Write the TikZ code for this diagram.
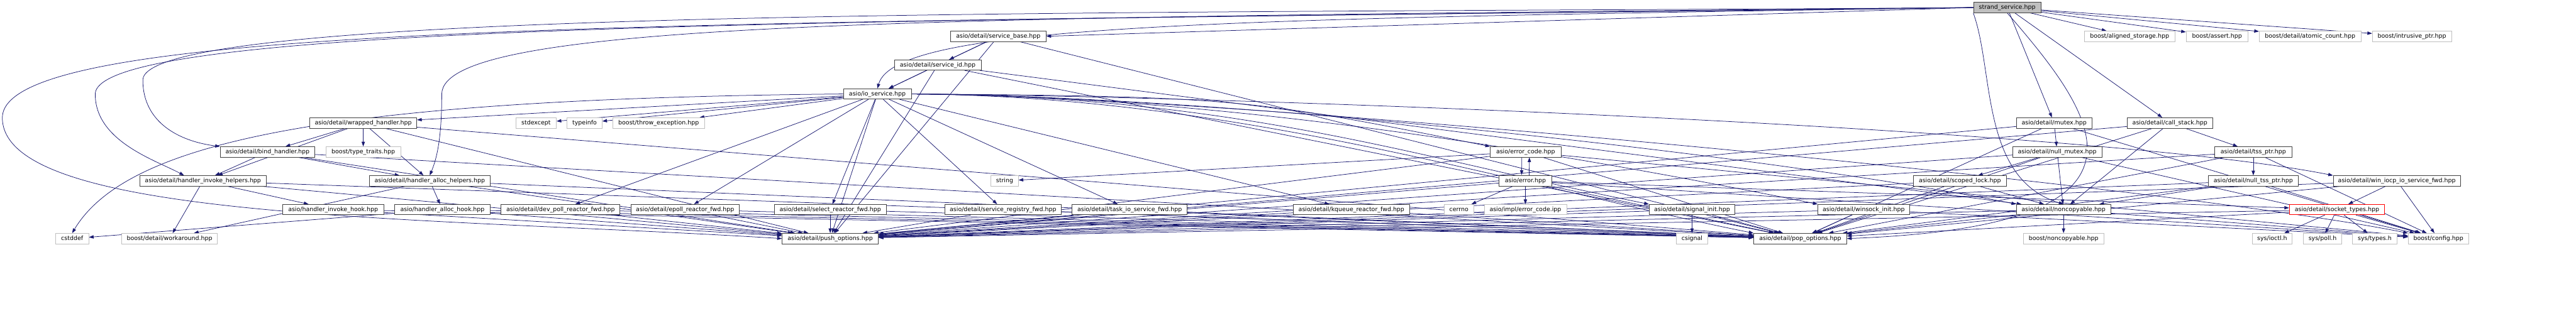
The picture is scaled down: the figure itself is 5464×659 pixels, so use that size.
\documentclass[tikz,border=0pt]{standalone}
\usepackage{fontspec}
\setmainfont{DejaVu Sans}
\usetikzlibrary{arrows.meta, backgrounds}
\definecolor{dEdge}{HTML}{191970}
\definecolor{dBorder}{HTML}{404040}
\definecolor{dGrey}{HTML}{BFBFBF}
\definecolor{dRed}{HTML}{FF0000}

\begin{document}
\begin{tikzpicture}[x=1pt, y=1pt,
  file/.style={draw=#1, line width=1pt, fill=white, minimum height=22, inner sep=0pt,
               text height=9.5pt, text depth=2.5pt, font=\fontsize{12.6}{14}\selectfont},
  hdr/.style={file=dBorder},
  ext/.style={file=dGrey},
  trunc/.style={file=dRed},
  root/.style={file=dBorder, fill=dGrey},
  dep/.style={-{Triangle[length=10pt, width=7pt]}, dEdge, line width=1pt}]
  \useasboundingbox (0,0) rectangle (5464,-659);
  % rank 0-3: the file itself, service base, io_service
  \node[root, minimum width=143] (ss) at (4257.5,-16) {strand\_service.hpp};
  \node[hdr, minimum width=203] (sbase) at (2117.5,-77) {asio/detail/service\_base.hpp};
  \node[ext, minimum width=192] (aligned) at (4517,-77) {boost/aligned\_storage.hpp};
  \node[ext, minimum width=131] (assert) at (4702.5,-77) {boost/assert.hpp};
  \node[ext, minimum width=216] (atomic) at (4900,-77) {boost/detail/atomic\_count.hpp};
  \node[ext, minimum width=168] (intr) at (5116,-77) {boost/intrusive\_ptr.hpp};
  \node[hdr, minimum width=184] (sid) at (1989,-138) {asio/detail/service\_id.hpp};
  \node[hdr, minimum width=144] (io) at (1861,-199.5) {asio/io\_service.hpp};
  % rank 4
  \node[hdr, minimum width=227] (wrapped) at (770.5,-261) {asio/detail/wrapped\_handler.hpp};
  \node[ext, minimum width=86] (stdexc) at (1137,-261) {stdexcept};
  \node[ext, minimum width=74] (typeinfo) at (1240,-261) {typeinfo};
  \node[ext, minimum width=194] (throw) at (1397,-261) {boost/throw\_exception.hpp};
  \node[hdr, minimum width=160] (mutex) at (4357,-261) {asio/detail/mutex.hpp};
  \node[hdr, minimum width=181] (callst) at (4602.5,-261) {asio/detail/call\_stack.hpp};
  % rank 5
  \node[hdr, minimum width=201] (bind) at (567.5,-322.5) {asio/detail/bind\_handler.hpp};
  \node[ext, minimum width=159] (typetr) at (770.5,-322.5) {boost/type\_traits.hpp};
  \node[hdr, minimum width=150] (errcode) at (3236,-322.5) {asio/error\_code.hpp};
  \node[hdr, minimum width=189] (nullmutex) at (4363.5,-322.5) {asio/detail/null\_mutex.hpp};
  \node[hdr, minimum width=163] (tss) at (4779.5,-322.5) {asio/detail/tss\_ptr.hpp};
  % rank 6
  \node[hdr, minimum width=269] (invokeH) at (430.5,-384) {asio/detail/handler\_invoke\_helpers.hpp};
  \node[hdr, minimum width=257] (allocH) at (911.5,-384) {asio/detail/handler\_alloc\_helpers.hpp};
  \node[ext, minimum width=58] (string) at (2131,-384) {string};
  \node[hdr, minimum width=111] (error) at (3235.5,-384) {asio/error.hpp};
  \node[hdr, minimum width=198] (scoped) at (4157,-384) {asio/detail/scoped\_lock.hpp};
  \node[hdr, minimum width=191] (nulltss) at (4779.5,-384) {asio/detail/null\_tss\_ptr.hpp};
  \node[hdr, minimum width=270] (wiocp) at (5084,-384) {asio/detail/win\_iocp\_io\_service\_fwd.hpp};
  % rank 7
  \node[hdr, minimum width=215] (invhook) at (706.5,-445) {asio/handler\_invoke\_hook.hpp};
  \node[hdr, minimum width=203] (allochook) at (938.5,-445) {asio/handler\_alloc\_hook.hpp};
  \node[hdr, minimum width=252] (devpoll) at (1189,-445) {asio/detail/dev\_poll\_reactor\_fwd.hpp};
  \node[hdr, minimum width=230] (epoll) at (1453,-445) {asio/detail/epoll\_reactor\_fwd.hpp};
  \node[hdr, minimum width=238] (select) at (1761,-445) {asio/detail/select\_reactor\_fwd.hpp};
  \node[hdr, minimum width=247] (sreg) at (2127.5,-445) {asio/detail/service\_registry\_fwd.hpp};
  \node[hdr, minimum width=244] (task) at (2396,-445) {asio/detail/task\_io\_service\_fwd.hpp};
  \node[hdr, minimum width=247] (kqueue) at (2866.5,-445) {asio/detail/kqueue\_reactor\_fwd.hpp};
  \node[ext, minimum width=63] (cerrno) at (3094.5,-445) {cerrno};
  \node[ext, minimum width=175] (ecipp) at (3235.5,-445) {asio/impl/error\_code.ipp};
  \node[hdr, minimum width=182] (sigi) at (3589,-445) {asio/detail/signal\_init.hpp};
  \node[hdr, minimum width=194] (winsock) at (3953,-445) {asio/detail/winsock\_init.hpp};
  \node[hdr, minimum width=200] (noncp) at (4377,-445) {asio/detail/noncopyable.hpp};
  \node[trunc, minimum width=202] (socktypes) at (4957,-445) {asio/detail/socket\_types.hpp};
  % rank 8
  \node[ext, minimum width=70] (cstddef) at (153,-506.5) {cstddef};
  \node[ext, minimum width=203] (workar) at (359.5,-506.5) {boost/detail/workaround.hpp};
  \node[hdr, minimum width=204] (push) at (1761,-506.5) {asio/detail/push\_options.hpp};
  \node[ext, minimum width=66] (csignal) at (3589,-506.5) {csignal};
  \node[hdr, minimum width=197] (pop) at (3818.5,-506.5) {asio/detail/pop\_options.hpp};
  \node[ext, minimum width=170] (bnoncp) at (4377,-506.5) {boost/noncopyable.hpp};
  \node[ext, minimum width=85] (ioctl) at (4819.5,-506.5) {sys/ioctl.h};
  \node[ext, minimum width=81] (poll) at (4926.5,-506.5) {sys/poll.h};
  \node[ext, minimum width=94] (systypes) at (5037,-506.5) {sys/types.h};
  \node[ext, minimum width=128] (bconfig) at (5172,-506.5) {boost/config.hpp};
  \begin{scope}[on background layer]
    % strand_service
    \foreach \t in {mutex, callst, aligned, assert, atomic, intr} \draw[dep] (ss) -- (\t);
    \draw[dep] (ss.west) -- (sbase.east);
    \draw[dep] (ss.west) .. controls (2600,-40) and (1900,-50) .. (io.north);
    \draw[dep] (ss.west) .. controls (2500,-30) and (303,-10) .. (303,-170) .. controls (303,-260) and (380,-300) .. (bind.north west);
    \draw[dep] (ss.west) .. controls (2000,-45) and (202,-40) .. (202,-200) .. controls (202,-300) and (330,-340) .. ([xshift=-40]invokeH.north);
    \draw[dep] (ss.west) .. controls (1500,-50) and (5,-40) .. (5,-250) .. controls (5,-470) and (900,-460) .. (push.west);
    \draw[dep] (ss.west) .. controls (2000,-38) and (937,-40) .. (937,-200) .. controls (937,-300) and (925,-340) .. (allocH.north);
    \draw[dep] (ss.south) .. controls (4450,-250) and (4620,-480) .. (pop.east);
    \draw[dep] (ss.south west) .. controls (4230,-150) and (4200,-380) .. (noncp.north);
    % io_service
    \foreach \t in {wrapped, stdexc, typeinfo, throw, devpoll, epoll, select, sreg, task, kqueue, push} \draw[dep] (io) -- (\t);
    \foreach \t in {errcode, sigi, winsock, noncp, wiocp, pop, bconfig}
      \draw[dep] (io.east) .. controls +(700,-5) and +(-500,100) .. (\t.north west);
    \draw[dep] (io.west) .. controls (700,-210) and (270,-300) .. (cstddef.north);
    % service base and id
    \foreach \s/\t in {sbase/sid, sbase/io, sbase/push, sbase/pop, sid/io, sid/noncp, sid/push, sid/pop} \draw[dep] (\s) -- (\t);
    % handlers
    \foreach \s/\t in {wrapped/typetr, wrapped/bind, wrapped/allocH, wrapped/invokeH, bind/allocH, bind/invokeH,
                       invokeH/workar, invokeH/invhook, allocH/workar, allocH/allochook, allochook/cstddef} \draw[dep] (\s) -- (\t);
    \foreach \s in {wrapped, bind, invokeH, allocH, invhook, allochook, devpoll, epoll, kqueue, select, sreg, task, sigi, winsock}
      {\draw[dep] (\s) -- (push); \draw[dep] (\s) -- (pop);}
    \draw[dep] (sigi) -- (csignal);
    \draw[dep] (winsock) -- (bconfig);
    % errors
    \foreach \s/\t in {errcode/string, errcode/bconfig, error/cerrno, error/ecipp, error/socktypes, error/bconfig} \draw[dep] (\s) -- (\t);
    \draw[dep] ([xshift=-8]errcode.south) -- ([xshift=-8,yshift=1]error.north);
    \draw[dep] ([xshift=8]error.north) -- ([xshift=8]errcode.south);
    % locks, tss, sockets
    \foreach \s/\t in {mutex/nullmutex, nullmutex/scoped, nullmutex/noncp, scoped/noncp, callst/tss, callst/noncp,
                       tss/nulltss, nulltss/noncp, noncp/bnoncp, wiocp/socktypes,
                       socktypes/ioctl, socktypes/poll, socktypes/systypes} \draw[dep] (\s) -- (\t);
    \foreach \s in {mutex, nullmutex, tss, nulltss, noncp, wiocp, socktypes} \draw[dep] (\s) -- (bconfig);
    \foreach \s in {errcode, error, mutex, nullmutex, scoped, callst, tss, nulltss, noncp, wiocp, socktypes}
      {\draw[dep] (\s) -- (push); \draw[dep] (\s) -- (pop);}
  \end{scope}
\end{tikzpicture}
\end{document}
